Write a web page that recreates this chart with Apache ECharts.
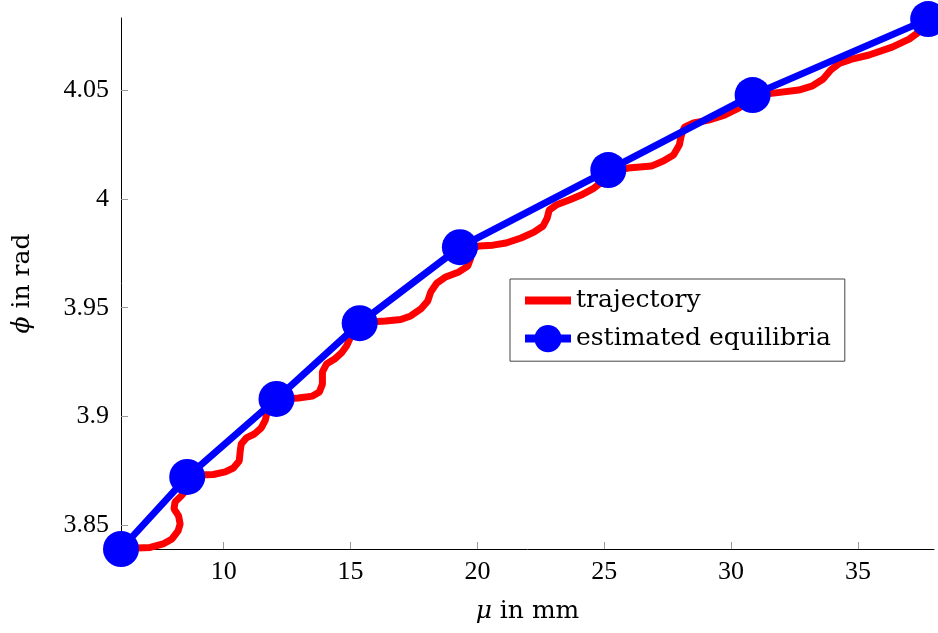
<!DOCTYPE html>
<html>
<head>
<meta charset="utf-8">
<script src="https://cdn.jsdelivr.net/npm/echarts@6/dist/echarts.min.js"></script>
<style>
  html, body { margin: 0; padding: 0; background: #fff; }
  #chart { width: 938px; height: 633px; }
</style>
</head>
<body>
<div id="chart"></div>
<script>
// trajectory samples: mu (mm), phi (rad)
const trajMu = [
  5.95, 6.58, 7.10, 7.61, 7.96, 8.20, 8.28, 8.22, 8.04, 8.08,
  8.32, 8.56, 8.56, 9.07, 9.59, 10.06, 10.38, 10.61, 10.65, 10.69,
  10.89, 11.21, 11.48, 11.64, 11.72, 11.92, 12.31, 12.94, 13.50, 13.77,
  13.89, 13.89, 14.05, 14.37, 14.64, 14.84, 15.00, 15.24, 15.71, 16.38,
  16.98, 17.37, 17.77, 18.04, 18.16, 18.40, 18.75, 19.27, 19.62, 19.74,
  19.66, 20.06, 20.61, 21.13, 21.72, 22.23, 22.59, 22.75, 22.83, 23.10,
  23.62, 24.09, 24.60, 25.00, 25.20, 25.95, 26.86, 27.33, 27.73, 27.96,
  28.04, 28.16, 28.52, 29.11, 29.74, 30.30, 30.70, 31.01, 31.68, 32.67,
  33.18, 33.62, 33.93, 34.29, 34.76, 35.44, 36.35, 37.02, 37.45, 37.77
];
const trajPhi = [
  3.8397, 3.8397, 3.8399, 3.8415, 3.8438, 3.8475, 3.8507, 3.8544, 3.8576, 3.8608,
  3.8635, 3.8668, 3.8723, 3.8732, 3.8734, 3.8746, 3.8764, 3.8796, 3.8842, 3.8874,
  3.8902, 3.8920, 3.8948, 3.8984, 3.9026, 3.9062, 3.9081, 3.9085, 3.9094, 3.9113,
  3.9149, 3.9205, 3.9241, 3.9264, 3.9292, 3.9324, 3.9365, 3.9416, 3.9434, 3.9439,
  3.9446, 3.9462, 3.9494, 3.9530, 3.9572, 3.9613, 3.9641, 3.9664, 3.9691, 3.9728,
  3.9765, 3.9783, 3.9787, 3.9797, 3.9820, 3.9847, 3.9875, 3.9911, 3.9948, 3.9971,
  3.9994, 4.0017, 4.0049, 4.0086, 4.0123, 4.0141, 4.0150, 4.0173, 4.0201, 4.0247,
  4.0292, 4.0329, 4.0348, 4.0361, 4.0384, 4.0416, 4.0453, 4.0476, 4.0485, 4.0499,
  4.0517, 4.0549, 4.0591, 4.0623, 4.0641, 4.0660, 4.0696, 4.0733, 4.0770, 4.0797
];

// estimated equilibria
const eqMu = [5.95, 8.56, 12.08, 15.36, 19.31, 25.16, 30.85, 37.77];
const eqPhi = [3.8392, 3.8723, 3.9081, 3.9429, 3.9778, 4.0132, 4.0476, 4.0825];

const xTicks = [10, 15, 20, 25, 30, 35];
const yTicks = [3.85, 3.9, 3.95, 4, 4.05];

const NUM_FONT = '"Liberation Serif", serif';
const TXT_FONT = '"DejaVu Serif", "Liberation Serif", serif';

const chart = echarts.init(document.getElementById('chart'));

chart.setOption({
  animation: false,
  grid: { left: 121, right: 4, top: 18, bottom: 84 },
  legend: {
    left: 510,
    top: 279,
    orient: 'vertical',
    backgroundColor: '#fff',
    borderColor: '#444',
    borderWidth: 1,
    padding: [9, 14, 9, 11],
    itemWidth: 46,
    itemHeight: 34,
    itemGap: 12,
    textStyle: { fontFamily: TXT_FONT, fontSize: 25, color: '#000' },
    data: [
      { name: 'trajectory', icon: 'path://M0,0H46V8H0Z', lineStyle: { width: 0 } },
      { name: 'estimated equilibria', lineStyle: { width: 8 } }
    ]
  },
  xAxis: {
    type: 'value',
    min: 5.95,
    max: 38,
    name: '{i|μ} in mm',
    nameLocation: 'middle',
    nameGap: 50,
    nameTextStyle: {
      fontFamily: TXT_FONT, fontSize: 25, color: '#000',
      rich: { i: { fontFamily: TXT_FONT, fontSize: 25, fontStyle: 'italic' } }
    },
    splitLine: { show: false },
    axisLine: { lineStyle: { color: '#000', width: 1 } },
    axisTick: { inside: true, length: 7, customValues: xTicks, lineStyle: { color: '#999' } },
    axisLabel: {
      customValues: xTicks,
      margin: 10,
      fontFamily: NUM_FONT, fontSize: 26, color: '#000'
    }
  },
  yAxis: {
    type: 'value',
    min: 3.8392,
    max: 4.083,
    name: '{i|ϕ} in rad',
    nameLocation: 'middle',
    nameGap: 86,
    nameRotate: 90,
    nameTextStyle: {
      fontFamily: TXT_FONT, fontSize: 25, color: '#000',
      rich: { i: { fontFamily: TXT_FONT, fontSize: 25, fontStyle: 'italic' } }
    },
    splitLine: { show: false },
    axisLine: { show: true, lineStyle: { color: '#000', width: 1 } },
    axisTick: { show: true, inside: true, length: 7, customValues: yTicks, lineStyle: { color: '#999' } },
    axisLabel: {
      customValues: yTicks,
      margin: 12,
      fontFamily: NUM_FONT, fontSize: 26, color: '#000',
      formatter: (v) => String(Math.round(v * 100) / 100)
    }
  },
  series: [
    {
      name: 'trajectory',
      type: 'line',
      data: trajMu.map((m, i) => [m, trajPhi[i]]),
      symbol: 'none',
      lineStyle: { color: '#ff0000', width: 7 },
      itemStyle: { color: '#ff0000' },
      z: 2
    },
    {
      name: 'estimated equilibria',
      type: 'line',
      data: eqMu.map((m, i) => [m, eqPhi[i]]),
      symbol: 'circle',
      symbolSize: 36,
      clip: false,
      lineStyle: { color: '#0000ff', width: 7 },
      itemStyle: { color: '#0000ff' },
      z: 3
    }
  ]
});
</script>
</body>
</html>
